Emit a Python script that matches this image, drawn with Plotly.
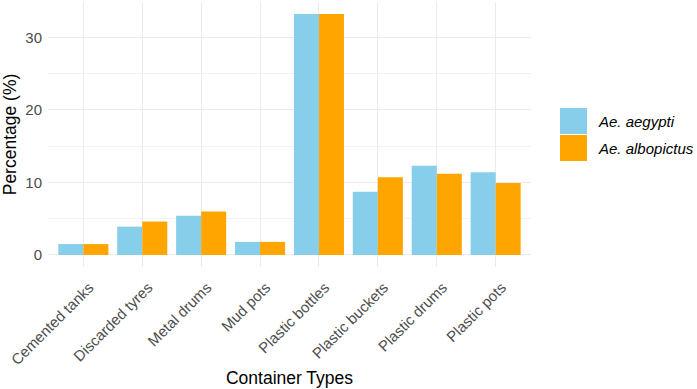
import plotly.graph_objects as go

categories = ["Cemented tanks", "Discarded tyres", "Metal drums", "Mud pots",
              "Plastic bottles", "Plastic buckets", "Plastic drums", "Plastic pots"]
aegypti = [1.5, 3.9, 5.4, 1.8, 33.2, 8.7, 12.3, 11.4]
albopictus = [1.5, 4.6, 6.0, 1.8, 33.2, 10.7, 11.2, 9.9]
series_names = ["Ae. aegypti", "Ae. albopictus"]
colors = ["#87CEEB", "#FFA500"]

fig = go.Figure()
for name, vals, col in zip(series_names, [aegypti, albopictus], colors):
    fig.add_trace(go.Bar(x=categories, y=vals, name=name, marker_color=col,
                         marker_line_width=0, showlegend=False))

font_family = "Liberation Sans, Arial, sans-serif"
L, R, T, B, W, H = 48, 166, 2, 122, 697, 389
fig.update_layout(
    width=W, height=H,
    margin=dict(l=L, r=R, t=T, b=B, autoexpand=False),
    barmode="group", bargap=0.15, bargroupgap=0,
    plot_bgcolor="white", paper_bgcolor="white",
    font=dict(family=font_family, color="#4D4D4D", size=15),
)
fig.update_xaxes(
    tickangle=-45, showgrid=True, gridcolor="#EBEBEB", gridwidth=1.1,
    tickfont=dict(size=15, color="#4D4D4D"), ticklabelstandoff=8, ticklabelshift=6,
    title=dict(text="Container Types", font=dict(size=17.5, color="black"), standoff=4),
    range=[-0.6, 7.6], zeroline=False, ticks="", showline=False, automargin=False,
)
fig.update_yaxes(
    range=[-1.66, 34.86], tickvals=[0, 10, 20, 30],
    showgrid=True, gridcolor="#EBEBEB", gridwidth=1.1,
    minor=dict(tickvals=[5, 15, 25], showgrid=True, gridcolor="#F2F2F2", gridwidth=0.6),
    zeroline=False, ticks="", showline=False, automargin=False,
    tickfont=dict(size=15, color="#4D4D4D"), ticklabelstandoff=5,
    title=dict(text="Percentage (%)", font=dict(size=17.5, color="black"), standoff=4),
)

# legend drawn manually to match ggplot key size
pw, ph = W - L - R, H - T - B
key_x0, key_w, key_h = 560, 27, 26
key_y0 = [108, 135]
for name, col, y0 in zip(series_names, colors, key_y0):
    fig.add_shape(type="rect", xref="paper", yref="paper",
                  x0=(key_x0 - L) / pw, x1=(key_x0 + key_w - L) / pw,
                  y0=1 - (y0 + key_h - T) / ph, y1=1 - (y0 - T) / ph,
                  fillcolor=col, line=dict(width=0))
    fig.add_annotation(xref="paper", yref="paper",
                       x=(598 - L) / pw,
                       y=1 - (y0 + key_h / 2 - T) / ph,
                       text="<i>" + name + "</i>", showarrow=False, xanchor="left", yanchor="middle",
                       xshift=-2, font=dict(size=15, color="black", family=font_family))

fig.write_html("out.html")
